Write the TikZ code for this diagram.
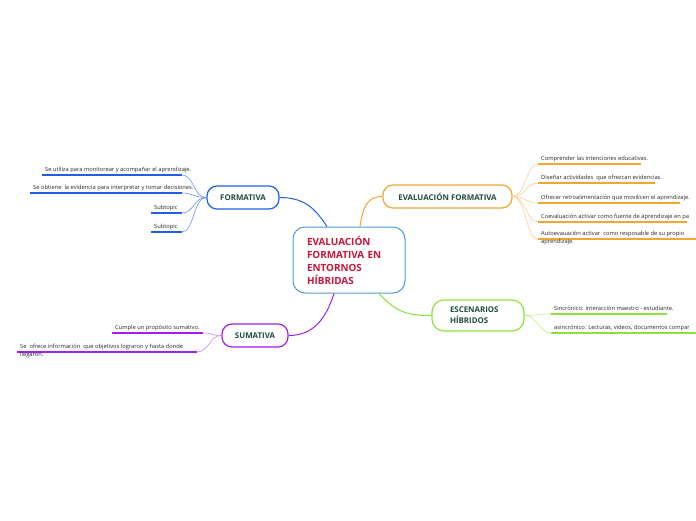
\documentclass[tikz,border=0pt]{standalone}
\usepackage{fontspec}
\setmainfont{Open Sans}
\definecolor{cmain}{HTML}{4D9DE0}
\definecolor{crim}{HTML}{C8153A}
\definecolor{tgreen}{HTML}{1E4D3B}
\definecolor{cblue}{HTML}{1F5FE6}
\definecolor{cbluel}{HTML}{6D95F0}
\definecolor{corange}{HTML}{F5A631}
\definecolor{corangel}{HTML}{FBCF8F}
\definecolor{cgreen}{HTML}{8CE23A}
\definecolor{cgreenl}{HTML}{BDF08A}
\definecolor{cpurple}{HTML}{A31FF0}
\definecolor{cpurplel}{HTML}{C98CF5}
\begin{document}
\begin{tikzpicture}[x=1pt,y=-1pt,
  topic/.style={draw, line width=1.2pt, rounded corners=10pt, fill=white, inner sep=0pt,
    font=\bfseries\fontsize{7.9}{11}\selectfont, text=tgreen, minimum height=23pt},
  sub/.style={anchor=base west, inner sep=0pt, font=\fontsize{5.75}{9.5}\selectfont, text=black!85, xshift=3pt, yshift=4pt},
  subb/.style={anchor=base west, inner sep=0pt, font=\fontsize{5.75}{9.5}\selectfont, text=black!85, xshift=3pt, yshift=-4.5pt},
  ul/.style={line width=1.6pt},
  fan/.style={line width=0.6pt},
  conn/.style={line width=1pt}]
\useasboundingbox[fill=white] (0,0) rectangle (696,520);

% central node
\node[draw=cmain, line width=1pt, rounded corners=12pt, fill=white, minimum width=112pt,
  minimum height=66pt, text width=84pt, align=left, inner sep=0pt,
  font=\bfseries\fontsize{9.9}{13}\selectfont, text=crim] (main) at (349,260)
  {EVALUACIÓN\\FORMATIVA EN\\ENTORNOS\\HÍBRIDAS};

% main topics
\node[topic, draw=cblue, minimum width=72pt] (formativa) at (243,197.5) {FORMATIVA};
\node[topic, draw=corange, minimum width=129pt] (evalf) at (447.5,196.5) {EVALUACIÓN FORMATIVA};
\node[topic, draw=cgreen, minimum width=92pt, minimum height=31pt, rounded corners=12pt,
  text width=56pt, align=left] (escen) at (478,315.5) {ESCENARIOS\\HÍBRIDOS};
\node[topic, draw=cpurple, minimum width=66pt] (sumativa) at (255,335.5) {SUMATIVA};

% connectors from main
\draw[conn, cblue] ([xshift=-22pt]main.north) .. controls +(-12,-18) and +(25,0) .. (formativa.east);
\draw[conn, corange] ([xshift=11pt]main.north) .. controls +(3,-20) and +(-15,0) .. (evalf.west);
\draw[conn, cpurple] ([xshift=-15pt]main.south) .. controls +(-8,25) and +(25,0) .. (sumativa.east);
\draw[conn, cgreen] ([xshift=30pt]main.south) .. controls +(18,20) and +(-22,0) .. (escen.west);

% FORMATIVA subtopics
\coordinate (fa1) at (42,175);  \coordinate (fb1) at (182,175);
\coordinate (fa2) at (30,193);  \coordinate (fb2) at (182,193);
\coordinate (fa3) at (151,213); \coordinate (fb3) at (182,213);
\coordinate (fa4) at (151,232); \coordinate (fb4) at (182,232);
\foreach \i in {1,2,3,4}{
  \draw[ul, cblue] (fa\i) -- (fb\i);
  \draw[fan, cbluel] (formativa.west) .. controls +(-13,0) and +(12,0) .. (fb\i);
}
\node[sub] (ft1) at (fa1) {Se utiliza para monitorear y acompañar el aprendizaje.};
\node[sub] (ft2) at (fa2) {Se obtiene\ \ la evidencia para interpretar y tomar decisiones.};
\node[sub] (ft3) at (fa3) {Subtopic};
\node[sub] (ft4) at (fa4) {Subtopic};

% EVALUACION FORMATIVA subtopics
\coordinate (ea1) at (538,164); \coordinate (eb1) at (641,164);
\coordinate (ea2) at (538,183); \coordinate (eb2) at (655,183);
\coordinate (ea3) at (538,203); \coordinate (eb3) at (680,203);
\coordinate (ea4) at (538,222); \coordinate (eb4) at (687,222);
\coordinate (ea5) at (538,239); \coordinate (eb5) at (696,239);
\foreach \i in {1,2,3,4,5}{
  \draw[ul, corange] (ea\i) -- (eb\i);
  \draw[fan, corangel] (evalf.east) .. controls +(13,0) and +(-12,0) .. (ea\i);
}
\node[sub] (et1) at (ea1) {Comprender las intenciones educativas.};
\node[sub] (et2) at (ea2) {Diseñar actividades\ \ que ofrezcan evidencias.};
\node[sub] (et3) at (ea3) {Ofrecer retroalimentación que movilicen el aprendizaje.};
\node[sub] (et4) at (ea4) {Coevaluación activar como fuente de aprendizaje en pa};
\node[sub] (et5) at (ea5) {Autoevauación activar\ \ como resposable de su propio};
\node[subb] (et5b) at (ea5) {aprendizaje.};

% ESCENARIOS subtopics
\coordinate (ga1) at (551,314); \coordinate (gb1) at (667,314);
\coordinate (ga2) at (551,333); \coordinate (gb2) at (696,333);
\foreach \i in {1,2}{
  \draw[ul, cgreen] (ga\i) -- (gb\i);
  \draw[fan, cgreenl] (escen.east) .. controls +(13,0) and +(-12,0) .. (ga\i);
}
\node[sub] (gt1) at (ga1) {Sincrónico: interacción maestro - estudiante.};
\node[sub] (gt2) at (ga2) {asincrónico: Lecturas, videos, documentos compar};

% SUMATIVA subtopics
\coordinate (sa1) at (112,333); \coordinate (sb1) at (203,333);
\coordinate (sa2) at (17,352);  \coordinate (sb2) at (197,352);
\foreach \i in {1,2}{
  \draw[ul, cpurple] (sa\i) -- (sb\i);
  \draw[fan, cpurplel] (sumativa.west) .. controls +(-12,0) and +(12,0) .. (sb\i);
}
\node[sub] (st1) at (sa1) {Cumple un propósito sumativo.};
\node[sub] (st2) at (sa2) {Se\ \ ofrece información\ \ que objetivos lograron y hasta donde};
\node[subb] (st2b) at (sa2) {llegaron.};
\end{tikzpicture}
\end{document}
